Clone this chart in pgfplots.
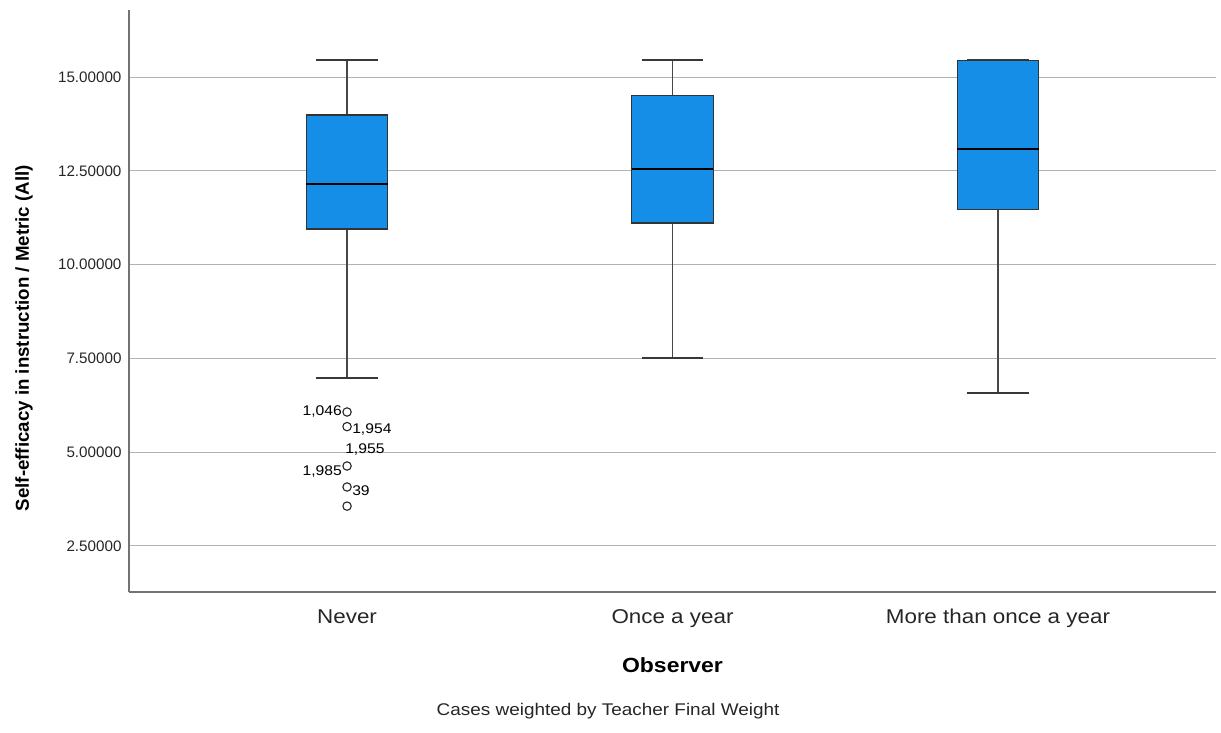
\documentclass[border=0pt]{standalone}
\usepackage{pgfplots}
\pgfplotsset{compat=1.18}
\usepackage{fontspec}
\setmainfont{Liberation Sans}[FakeStretch=1.12]
\newfontfamily\ylabfont{Liberation Sans}
\definecolor{boxblue}{RGB}{20,142,230}
\begin{document}
\begin{tikzpicture}
\path[use as bounding box] (-129pt,-140pt) rectangle (1092pt,592pt);
\begin{axis}[
  at={(0pt,0pt)}, anchor=south west,
  scale only axis, width=1087pt, height=582pt,
  xmin=-0.67, xmax=2.67, ymin=1.27, ymax=16.79,
  axis x line*=bottom, axis y line*=left,
  axis line style={draw=black!55, line width=1.3pt},
  xtick={0,1,2}, xticklabels={Never, Once a year, More than once a year},
  ytick={2.5,5,7.5,10,12.5,15},
  major tick length=0pt,
  ymajorgrids, grid style={draw=black!30, line width=1pt},
  yticklabel={\pgfmathprintnumber[fixed,fixed zerofill,precision=5,assume math mode=true]{\tick}},
  yticklabel style={font=\ylabfont\fontsize{15.2}{18}\selectfont, color=black!85, xshift=-4pt},
  xticklabel style={font=\fontsize{20}{24}\selectfont, anchor=base, yshift=-31pt, color=black!85},
  xlabel={Observer},
  xlabel style={font=\bfseries\fontsize{20.5}{24}\selectfont, at={(axis description cs:0.5,-0.1375)}, anchor=base},
  ylabel={Self-efficacy in instruction / Metric (All)},
  ylabel style={font=\ylabfont\bfseries\fontsize{18.7}{22}\selectfont, at={(axis description cs:-0.0966,0.436)}, anchor=center},
  clip=false,
  whisk/.style={draw=black!72, line width=1.6pt},
  cap/.style={draw=black!78, line width=1.6pt},
  boxs/.style={fill=boxblue, draw=black!80, line width=1.2pt},
  med/.style={draw=black, line width=2.4pt},
  lab/.style={draw=none, mark=none, point meta=explicit symbolic, nodes near coords,
    every node near coord/.append style={font=\fontsize{14}{17}\selectfont, inner sep=0pt, #1}},
]
% ---- Never (x=0): LW 6.97, Q1 10.95, M 12.15, Q3 13.99, UW 15.45
\addplot[whisk] coordinates {(0,13.99) (0,15.45)};
\addplot[whisk] coordinates {(0,6.97) (0,10.95)};
\addplot[cap] coordinates {(-0.095,15.45) (0.095,15.45)};
\addplot[cap] coordinates {(-0.095,6.97) (0.095,6.97)};
\addplot[boxs] coordinates {(-0.125,10.95) (0.125,10.95) (0.125,13.99) (-0.125,13.99)} -- cycle;
\addplot[med] coordinates {(-0.125,12.15) (0.125,12.15)};
% ---- Once a year (x=1): LW 7.51, Q1 11.11, M 12.55, Q3 14.52, UW 15.45
\addplot[whisk] coordinates {(1,14.52) (1,15.45)};
\addplot[whisk] coordinates {(1,7.51) (1,11.11)};
\addplot[cap] coordinates {(0.905,15.45) (1.095,15.45)};
\addplot[cap] coordinates {(0.905,7.51) (1.095,7.51)};
\addplot[boxs] coordinates {(0.875,11.11) (1.125,11.11) (1.125,14.52) (0.875,14.52)} -- cycle;
\addplot[med] coordinates {(0.875,12.55) (1.125,12.55)};
% ---- More than once a year (x=2): LW 6.57, Q1 11.48, M 13.08, Q3 15.45, UW 15.45
\addplot[whisk] coordinates {(2,6.57) (2,11.48)};
\addplot[cap] coordinates {(1.905,15.45) (2.095,15.45)};
\addplot[cap] coordinates {(1.905,6.57) (2.095,6.57)};
\addplot[boxs] coordinates {(1.875,11.48) (2.125,11.48) (2.125,15.45) (1.875,15.45)} -- cycle;
\addplot[med] coordinates {(1.875,13.08) (2.125,13.08)};
% ---- outliers (Never)
\addplot[only marks, mark=o, mark size=4.2pt, mark options={draw=black!85, fill=none, line width=1.1pt}]
  coordinates {(0,6.07) (0,5.68) (0,4.63) (0,4.07) (0,3.56)};
\addplot[lab={anchor=east, xshift=-5pt}] coordinates {(0,6.07) [{1,046}]};
\addplot[lab={anchor=west, xshift=5pt, yshift=-3pt}] coordinates {(0,5.68) [{1,954}]};
\addplot[lab={anchor=west, xshift=-2pt, yshift=16pt}] coordinates {(0,4.63) [{1,955}]};
\addplot[lab={anchor=east, xshift=-5pt, yshift=-6pt}] coordinates {(0,4.63) [{1,985}]};
\addplot[lab={anchor=west, xshift=5pt, yshift=-4pt}] coordinates {(0,4.07) [{39}]};
\node[anchor=base, font=\fontsize{16.9}{20}\selectfont, color=black!85] at (axis description cs:0.4407,-0.213) {Cases weighted by Teacher Final Weight};
\end{axis}
\end{tikzpicture}
\end{document}
